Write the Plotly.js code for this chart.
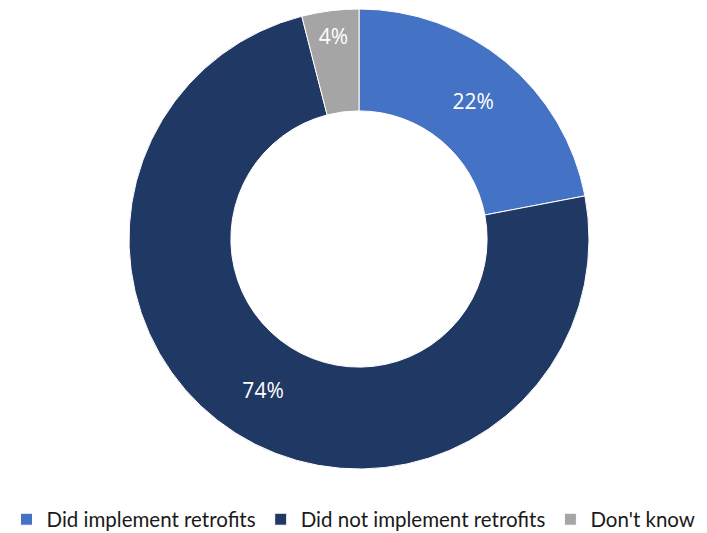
<!DOCTYPE html>
<html>
<head>
<meta charset="utf-8">
<script src="https://cdn.plot.ly/plotly-3.0.1.min.js"></script>
<style>
  html, body { margin: 0; padding: 0; background: #ffffff; }
  #chart { width: 707px; height: 533px; }
</style>
</head>
<body>
<div id="chart"></div>
<script>
// Share of respondents by retrofit status
const categories = ["Did implement retrofits", "Did not implement retrofits", "Don't know"];
const shares = [22, 74, 4];
const sliceColors = ["#4472C4", "#203864", "#A5A5A5"];

const trace = {
  type: "pie",
  labels: categories,
  values: shares,
  hole: 0.557,
  sort: false,
  direction: "clockwise",
  rotation: 0,
  marker: { colors: sliceColors, line: { color: "#ffffff", width: 1 } },
  texttemplate: "%{value}%",
  textposition: "inside",
  insidetextorientation: "horizontal",
  textfont: { family: "Open Sans", size: 21, color: "#ffffff" },
  hoverinfo: "label+percent",
  domain: { x: [129 / 707, 589 / 707], y: [64 / 533, 524 / 533] }
};

const layout = {
  width: 707,
  height: 533,
  margin: { l: 0, r: 0, t: 0, b: 0, autoexpand: false },
  paper_bgcolor: "#ffffff",
  showlegend: true,
  legend: {
    orientation: "h",
    x: 0.5,
    xanchor: "center",
    y: -0.012,
    yanchor: "bottom",
    font: { family: "Lato", size: 20.5, color: "#1a1a1a" },
    traceorder: "normal"
  }
};

Plotly.newPlot("chart", [trace], layout, { displayModeBar: false, staticPlot: true });
</script>
</body>
</html>
